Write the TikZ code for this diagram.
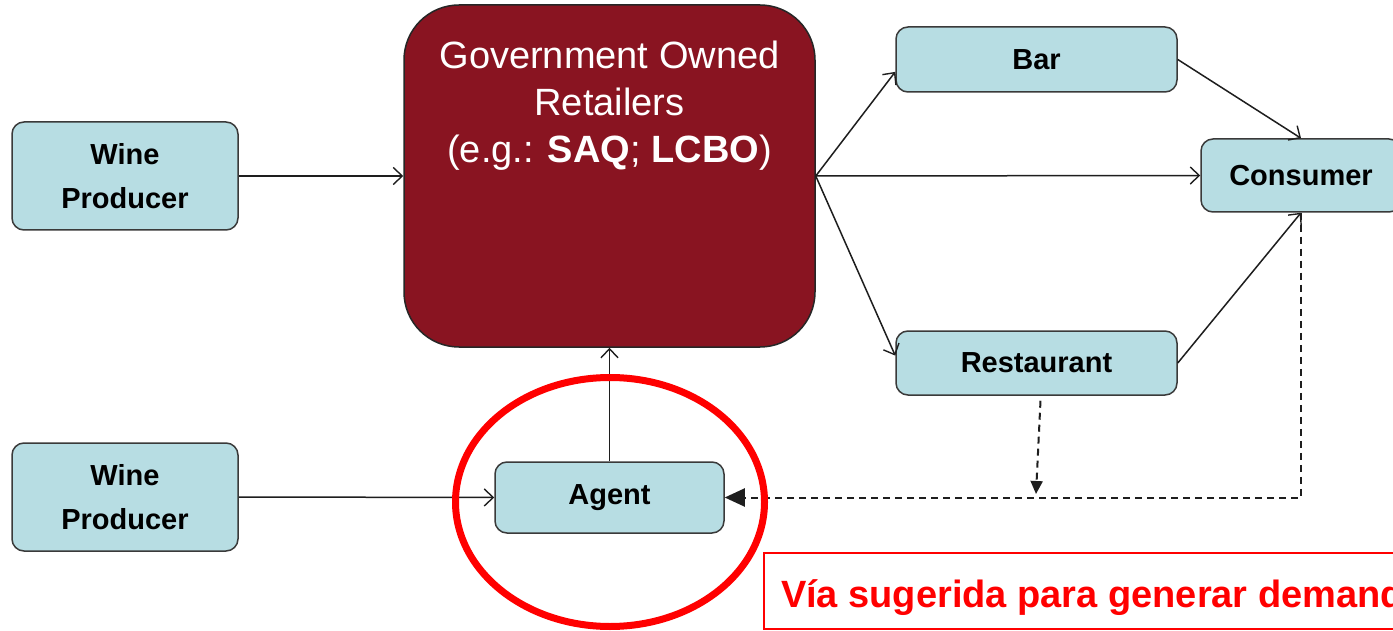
\documentclass[tikz,border=0pt]{standalone}
\usepackage{fontspec}
\setmainfont{Liberation Sans}
\usetikzlibrary{arrows.meta,shapes.geometric}
\definecolor{boxfill}{RGB}{183,221,227}
\definecolor{boxborder}{RGB}{58,58,58}
\definecolor{govfill}{RGB}{137,20,33}
\definecolor{linecol}{RGB}{30,30,30}
\tikzset{
  box/.style={draw=boxborder, line width=1.5pt, fill=boxfill, rounded corners=12pt,
    font=\fontsize{29}{44}\selectfont\bfseries, align=center, inner sep=0pt},
  arr/.style={draw=linecol, line width=1.5pt, -{Straight Barb[length=9pt,width=17pt,line width=1.4pt]}},
  dasharr/.style={draw=linecol, line width=2pt, dash pattern=on 7pt off 5pt},
}
\begin{document}
\begin{tikzpicture}[x=1pt,y=-1pt]
\useasboundingbox (0,0) rectangle (1393,631);
\clip (0,0) rectangle (1393,631);
\fill[white] (0,0) rectangle (1393,631);

% nodes
\node[box, minimum width=226pt, minimum height=108pt] (wp1) at (125,176) {Wine\\Producer};
\node[box, minimum width=226pt, minimum height=108pt] (wp2) at (125,497) {Wine\\Producer};
\node[draw=black!85, line width=1.5pt, fill=govfill, rounded corners=55pt,
      minimum width=411pt, minimum height=342pt, inner sep=0pt] (gov) at (609.5,176) {};
\node[text=white, font=\fontsize{38}{47}\selectfont, align=center, inner sep=0pt] (govtext) at (609.5,106)
  {Government Owned\\Retailers\\(e.g.: \textbf{SAQ}; \textbf{LCBO})};
\node[box, minimum width=281pt, minimum height=65pt] (bar) at (1036.5,59.5) {Bar};
\node[box, minimum width=200pt, minimum height=73pt] (cons) at (1301,175.5) {Consumer};
\node[box, minimum width=281pt, minimum height=64pt] (rest) at (1036.5,363) {Restaurant};
\node[box, minimum width=229pt, minimum height=71pt] (agent) at (609.5,497.5) {Agent};

% solid connectors
\draw[arr] (wp1.east) -- (gov.west);
\draw[arr] (gov.east) -- (bar.185);
\draw[arr] (gov.east) -- (cons.west);
\draw[arr] (gov.east) -- (rest.177);
\draw[arr] (bar.east) -- (cons.north);
\draw[arr] (rest.east) -- (cons.south);
\draw[arr] (agent.north) -- (gov.south);
\draw[arr] (wp2.east) -- (agent.west);

% dashed feedback
\coordinate (corner) at (cons.south |- agent.east);
\coordinate (dj) at (1036,494);
\draw[dasharr, -{Triangle[length=20pt,width=18pt]}] (cons.south) -- (corner) -- (agent.east);
\draw[dasharr, -{Triangle[length=13pt,width=12pt]}] ([xshift=4pt,yshift=-5pt]rest.south) -- (dj);

% red highlight
\node[draw=red, line width=7pt, ellipse, minimum width=309pt, minimum height=249pt, inner sep=0pt] (circ) at (610,502) {};
\node[draw=red, line width=2pt, fill=white, anchor=west, inner xsep=17pt, minimum height=76pt,
      text height=40pt, text depth=8pt, text=red, font=\fontsize{38}{44}\selectfont\bfseries] (note) at (763,591)
  {Vía sugerida para generar demanda};
\end{tikzpicture}
\end{document}
